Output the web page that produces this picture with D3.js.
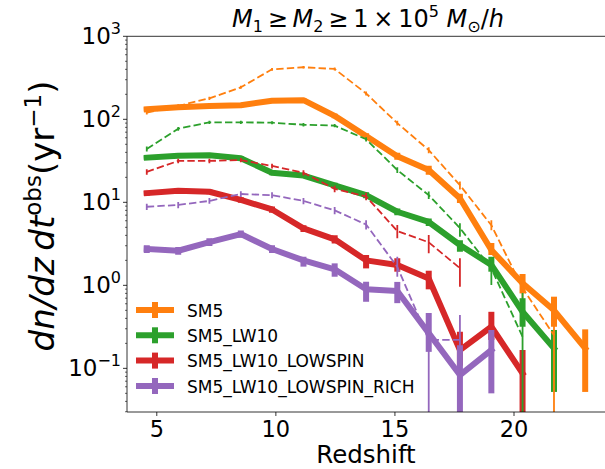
<!DOCTYPE html>
<html><head><meta charset="utf-8">
<script src="https://cdn.jsdelivr.net/npm/d3@7"></script>
<style>body{margin:0;background:#fff;} svg{display:block;} text{font-family:"DejaVu Sans",sans-serif;fill:#000;}</style>
</head><body>
<svg id="chart" width="605" height="469"></svg>
<script>
// ---------------- data ----------------
const redshift = [4.6, 5.92, 7.23, 8.55, 9.86, 11.18, 12.49, 13.81, 15.12, 16.44, 17.75, 19.07, 20.38, 21.7, 23.01];
const seriesNames = ["SM5", "SM5_LW10", "SM5_LW10_LOWSPIN", "SM5_LW10_LOWSPIN_RICH"];
const seriesColors = ["#ff7f0e", "#2ca02c", "#d62728", "#9467bd"];
const xTicks = [5, 10, 15, 20];
const yTickExps = [-1, 0, 1, 2, 3];

// thick solid runs (value, lower bound, upper bound)
const sm5 = [132, 140, 145, 148, 167, 170, 110, 63, 36, 24.5, 11.2, 2.66, 1.06, 0.50, 0.174];
const sm5Lo = [124, 132, 137, 140, 158, 161, 103, 58, 32.5, 21.5, 9.8, 2.32, 0.80, 0.317, 0.052];
const sm5Hi = [140, 148, 153, 156, 176, 179, 117, 68, 39.5, 27.5, 12.7, 3.23, 1.37, 0.73, 0.295];

const lw10 = [34.5, 36.5, 37, 34, 22.7, 21, 16, 12.2, 7.7, 5.8, 3.06, 1.76, 0.48, 0.174, null];
const lw10Lo = [32.5, 34.5, 35, 32, 21.2, 19.6, 14.8, 11.2, 7.0, 5.2, 2.54, 1.46, 0.317, 0.052, null];
const lw10Hi = [36.5, 38.5, 39, 36, 24.2, 22.4, 17.2, 13.2, 8.4, 6.4, 3.5, 2.21, 0.70, 0.29, null];

const lowspin = [12.9, 13.8, 13.4, 10.7, 8.2, 4.86, 3.58, 2.0, 1.76, 1.21, 0.166, 0.317, 0.087, null, null];
const lowspinLo = [12.0, 12.9, 12.5, 9.9, 7.5, 4.4, 3.2, 1.6, 1.46, 0.895, 0.108, 0.22, 0.001, null, null];
const lowspinHi = [13.8, 14.7, 14.3, 11.5, 8.9, 5.3, 4.0, 2.32, 2.12, 1.50, 0.276, 0.48, 0.166, null, null];

const rich = [2.74, 2.61, 3.32, 4.15, 2.74, 2.0, 1.56, 0.895, 0.853, 0.266, 0.083, 0.166, null, null, null];
const richLo = [2.45, 2.33, 2.98, 3.75, 2.45, 1.68, 1.27, 0.634, 0.61, 0.158, 0.001, 0.05, null, null, null];
const richHi = [3.05, 2.9, 3.68, 4.58, 3.05, 2.21, 1.84, 1.105, 1.1, 0.464, 0.19, 0.29, null, null, null];

// thin dashed runs
const sm5D = [120, 145, 179, 243, 400, 424, 404, 205, 90, 42.6, 16.1, 5.3, 0.93, 0.25, null];
const sm5DLo = [114, 138, 171, 233, 385, 408, 388, 194, 84, 39, 14.3, 4.6, 0.7, 0.001, null];
const sm5DHi = [126, 152, 187, 253, 415, 440, 420, 216, 96, 46, 17.8, 6.1, 1.2, 0.7, null];

const lw10D = [44, 77, 92, 92, 91, 86, 84, 57.5, 24.5, 12.2, 4.9, 1.6, 0.24, null, null];
const lw10DLo = [41, 73, 88, 88, 87, 82, 80, 54, 22.5, 11, 3.85, 1.01, 0.001, null, null];
const lw10DHi = [47, 81, 96, 96, 95, 90, 88, 61, 26.5, 13.5, 5.58, 2.02, 0.81, null, null];

const lowspinD = [23.3, 31.5, 31.5, 32.3, 27.4, 22.7, 14.5, 11.8, 4.5, 3.3, 1.61, null, null, null, null];
const lowspinDLo = [21.5, 29.5, 29.5, 30.3, 25.6, 21, 13.2, 10.6, 3.68, 2.43, 0.96, null, null, null, null];
const lowspinDHi = [25.1, 33.5, 33.5, 34.3, 29.2, 24.4, 15.8, 13.0, 5.33, 4.04, 2.12, null, null, null, null];

const richD = [8.85, 9.3, 10.4, 12.6, 12.2, 10.4, 8.0, 5.4, 1.67, 0.22, 0.22, null, null, null, null];
const richDLo = [8.1, 8.5, 9.6, 11.6, 11.2, 9.5, 7.2, 4.7, 1.27, 0.001, 0.001, null, null, null, null];
const richDHi = [9.6, 10.1, 11.3, 13.6, 13.2, 11.3, 8.8, 6.1, 2.21, 0.364, 0.44, null, null, null, null];

const solidRuns = [[sm5, sm5Lo, sm5Hi], [lw10, lw10Lo, lw10Hi], [lowspin, lowspinLo, lowspinHi], [rich, richLo, richHi]];
const dashedRuns = [[sm5D, sm5DLo, sm5DHi], [lw10D, lw10DLo, lw10DHi], [lowspinD, lowspinDLo, lowspinDHi], [richD, richDLo, richDHi]];

// ---------------- layout ----------------
const svg = d3.select("#chart");
const L = 127, R = 609, T = 36.3, B = 412;
const x = d3.scaleLinear().domain([3.77, 24.01]).range([L, R]);
const y = d3.scaleLog().domain([0.0298, 1000]).range([B, T]);

svg.append("defs").append("clipPath").attr("id", "clip")
  .append("rect").attr("x", L).attr("y", T).attr("width", R - L).attr("height", B - T);

const plot = svg.append("g").attr("clip-path", "url(#clip)");

function drawRun(run, color, lw, dashed) {
  const [vals, lo, hi] = run;
  const pts = redshift.map((z, i) => ({z, v: vals[i], lo: lo[i], hi: hi[i]})).filter(d => d.v != null);
  const line = d3.line().x(d => x(d.z)).y(d => y(d.v));
  const g = plot.append("g");
  g.selectAll("line").data(pts).enter().append("line")
    .attr("x1", d => x(d.z)).attr("x2", d => x(d.z))
    .attr("y1", d => y(Math.max(d.lo, 1e-4))).attr("y2", d => y(d.hi))
    .attr("stroke", color).attr("stroke-width", lw);
  const p = g.append("path").datum(pts).attr("d", line)
    .attr("fill", "none").attr("stroke", color).attr("stroke-width", lw)
    .attr("stroke-linejoin", "round");
  if (dashed) p.attr("stroke-dasharray", "7.4,3.2");
  else p.attr("stroke-linecap", "square");
}
solidRuns.forEach((r, i) => drawRun(r, seriesColors[i], 6, false));
dashedRuns.forEach((r, i) => drawRun(r, seriesColors[i], 1.8, true));

// ---------------- axes ----------------
const ax = svg.append("g");
ax.append("line").attr("x1", L).attr("x2", L).attr("y1", T).attr("y2", B).attr("stroke", "#000").attr("stroke-width", 0.8);
ax.append("line").attr("x1", L).attr("x2", R).attr("y1", B).attr("y2", B).attr("stroke", "#000").attr("stroke-width", 0.8);
ax.append("line").attr("x1", L).attr("x2", R).attr("y1", T).attr("y2", T).attr("stroke", "#000").attr("stroke-width", 0.8);

const xAxis = d3.axisBottom(x).tickValues(xTicks).tickSize(4).tickPadding(5).tickFormat(d3.format("d"));
const gx = svg.append("g").attr("transform", `translate(0,${B})`).call(xAxis);
gx.select(".domain").remove();
gx.selectAll(".tick line").attr("stroke", "#000").attr("stroke-width", 0.8);
gx.selectAll(".tick text").attr("font-size", 22.5).attr("font-family", "DejaVu Sans").attr("fill", "#000");

const minorVals = [];
for (let e = -2; e <= 2; e++) for (let m = 2; m <= 9; m++) {
  const v = m * Math.pow(10, e);
  if (v >= 0.0298 && v <= 1000) minorVals.push(v);
}
const gy = svg.append("g");
gy.selectAll(".minor").data(minorVals).enter().append("line")
  .attr("x1", L - 2).attr("x2", L).attr("y1", d => y(d)).attr("y2", d => y(d))
  .attr("stroke", "#000").attr("stroke-width", 0.6);
gy.selectAll(".major").data(yTickExps).enter().append("line")
  .attr("x1", L - 4).attr("x2", L).attr("y1", d => y(Math.pow(10, d))).attr("y2", d => y(Math.pow(10, d)))
  .attr("stroke", "#000").attr("stroke-width", 0.8);
const yl = gy.selectAll(".lab").data(yTickExps).enter().append("text")
  .attr("x", 121).attr("y", d => y(Math.pow(10, d)) + 8)
  .attr("text-anchor", "end").attr("font-size", 23);
yl.append("tspan").text("10");
yl.append("tspan").attr("dy", -10).attr("font-size", 16).text(d => d < 0 ? "\u2212" + Math.abs(d) : String(d));

// axis labels
svg.append("text").attr("x", (L + 609) / 2 - 2).attr("y", 463).attr("text-anchor", "middle")
  .attr("font-size", 24.5).text("Redshift");

const ylab = svg.append("text").attr("transform", "translate(54,216) rotate(-90)")
  .attr("text-anchor", "middle").attr("font-size", 34);
ylab.append("tspan").attr("font-style", "italic").text("dn/dz\u2009dt");
ylab.append("tspan").attr("dy", -13).attr("font-size", 23).text("obs");
ylab.append("tspan").attr("dy", 13).text("(yr");
ylab.append("tspan").attr("dy", -13).attr("font-size", 23).text("\u22121");
ylab.append("tspan").attr("dy", 13).text(")");

// title
const title = svg.append("text").attr("x", 368).attr("y", 27).attr("text-anchor", "middle").attr("font-size", 24);
const th = "\u2009";
title.append("tspan").attr("font-style", "italic").text("M");
title.append("tspan").attr("dy", 5).attr("font-size", 16).text("1");
title.append("tspan").attr("dy", -5).text(th + "\u2265" + th);
title.append("tspan").attr("font-style", "italic").text("M");
title.append("tspan").attr("dy", 5).attr("font-size", 16).text("2");
title.append("tspan").attr("dy", -5).text(th + "\u2265" + th + "1" + th + "\u00d7" + th + "10");
title.append("tspan").attr("dy", -10).attr("font-size", 16).text("5");
title.append("tspan").attr("dy", 10).text(" ");
title.append("tspan").attr("font-style", "italic").text("M");
title.append("tspan").attr("dy", 5).attr("font-size", 16).text("\u2299");
title.append("tspan").attr("dy", -5).text("/");
title.append("tspan").attr("font-style", "italic").text("h");

// legend
const legY = [310, 335.3, 360.6, 386];
const leg = svg.append("g");
seriesNames.forEach((name, i) => {
  const g = leg.append("g");
  g.append("line").attr("x1", 136).attr("x2", 174).attr("y1", legY[i]).attr("y2", legY[i])
    .attr("stroke", seriesColors[i]).attr("stroke-width", 6);
  g.append("line").attr("x1", 155).attr("x2", 155).attr("y1", legY[i] - 8).attr("y2", legY[i] + 8)
    .attr("stroke", seriesColors[i]).attr("stroke-width", 6);
  g.append("text").attr("x", 187).attr("y", legY[i] + 6.5).attr("font-size", 17).text(name);
});
</script>
</body></html>
